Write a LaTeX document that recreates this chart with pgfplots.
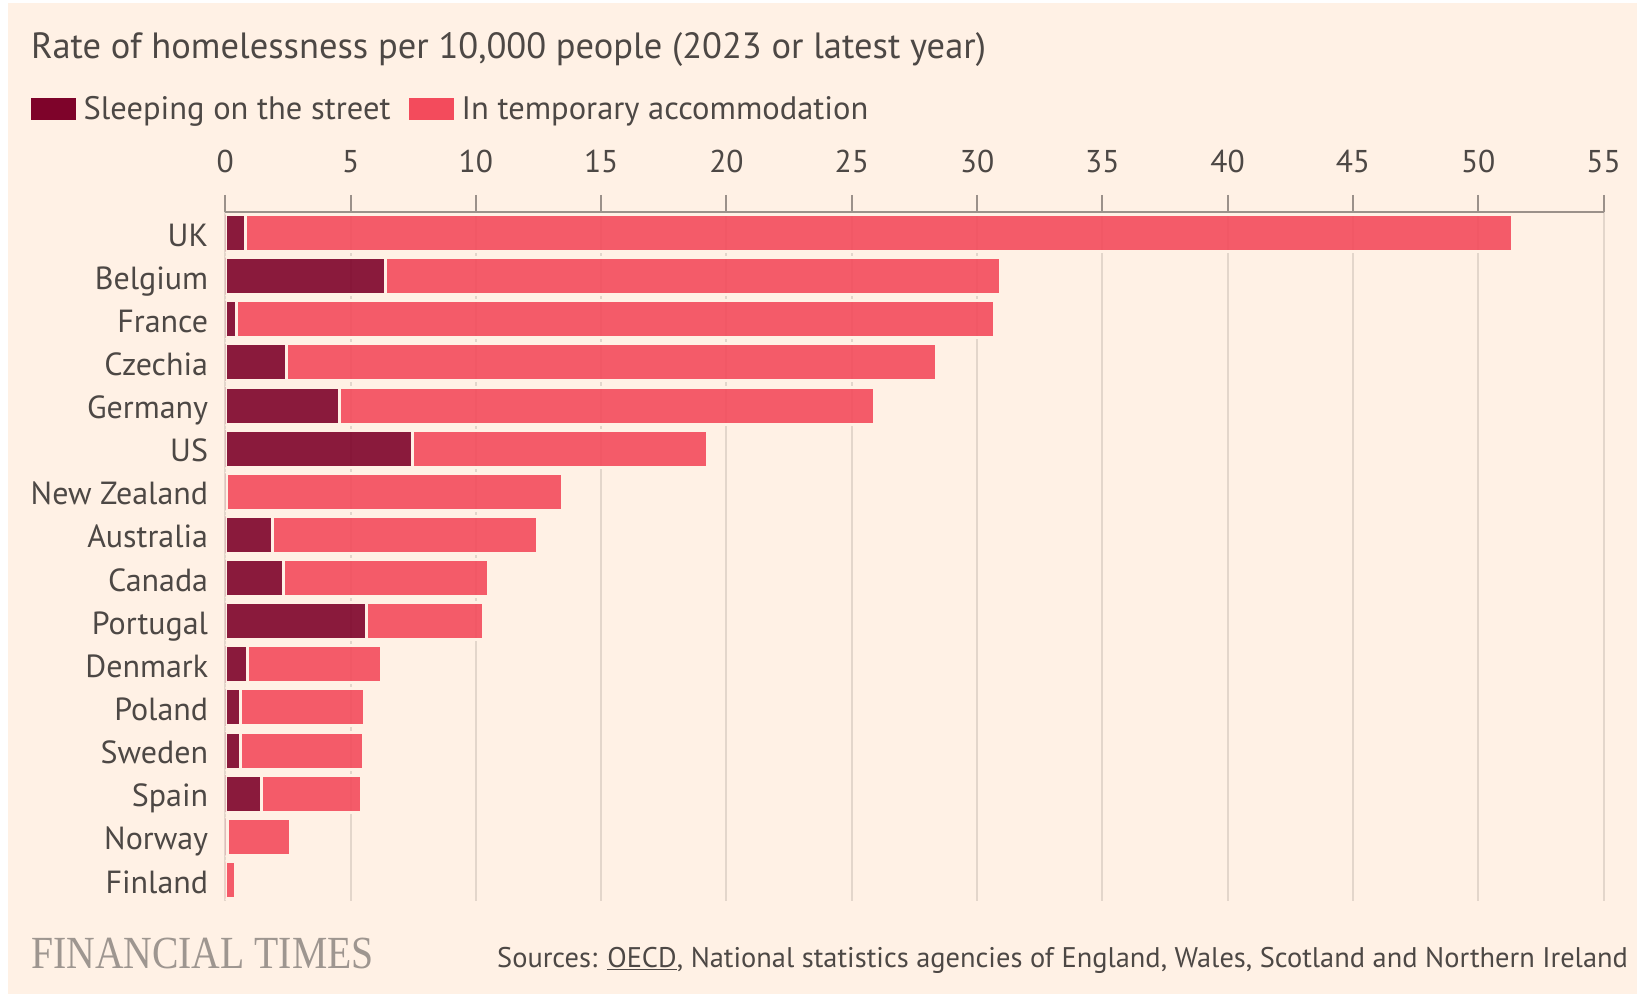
\documentclass[border=0pt]{standalone}
\usepackage{fontspec}
\setmainfont{PT Sans}
\newfontfamily\ftserif{Liberation Serif}
\usepackage{pgfplots}
\usepackage{pgfplotstable}
\pgfplotsset{compat=1.18}
\definecolor{bg}{HTML}{FFF1E5}
\definecolor{darkbar}{HTML}{7E032A}
\definecolor{lightbar}{HTML}{F34B5C}
\definecolor{txt}{HTML}{4D4845}
\definecolor{gridc}{HTML}{E3D6CB}
\definecolor{axisc}{HTML}{9B918A}
\definecolor{ftgray}{HTML}{9E9690}

% y = 15 - rank (UK on top)
\pgfplotstableread{
y  street temp
15 0.81 50.54
14 6.40 24.55
13 0.45 30.26
12 2.45 25.94
11 4.55 21.35
10 7.48 11.77
9  0.06 13.40
8  1.88 10.56
7  2.34 8.15
6  5.64 4.67
5  0.89 5.35
4  0.60 4.97
3  0.59 4.94
2  1.45 3.98
1  0.08 2.54
0  0.00 0.40
}\data

\begin{document}
\begin{tikzpicture}[x=1pt,y=1pt]
\useasboundingbox (0,0) rectangle (1637,994);
\fill[white] (0,0) rectangle (1637,994);
\fill[bg] (8,0) rectangle (1637,991);

\node[anchor=base west, inner sep=0pt, text=txt, font=\fontsize{36.5}{42}\selectfont] at (31,935) {Rate of homelessness per 10,000 people (2023 or latest year)};

\fill[darkbar] (31,874) rectangle (76,896);
\node[anchor=base west, inner sep=0pt, text=txt, font=\fontsize{32.5}{38}\selectfont] at (83.5,874) {Sleeping on the street};
\fill[lightbar] (409,874) rectangle (454,896);
\node[anchor=base west, inner sep=0pt, text=txt, font=\fontsize{32.5}{38}\selectfont] at (461.5,874) {In temporary accommodation};

\node[anchor=base west, inner sep=0pt, text=ftgray, font=\ftserif\fontsize{46}{50}\selectfont] at (31,26) {\scalebox{0.862}[1]{FINANCIAL TIMES}};
\node[anchor=base west, inner sep=0pt, text=txt, font=\fontsize{28.4}{34}\selectfont] at (497,27) {Sources: \underline{OECD}, National statistics agencies of England, Wales, Scotland and Northern Ireland};

\begin{axis}[
  at={(225.3pt,93.3pt)}, anchor=south west,
  scale only axis, width=1378.2pt, height=688.8pt,
  xbar stacked, bar width=37pt,
  xmin=0, xmax=55, ymin=-0.48, ymax=15.49,
  axis x line*=top, axis y line*=left,
  y axis line style={draw=none},
  x axis line style={draw=axisc, line width=2.5pt},
  xtick={0,5,...,55}, ytick={0,...,15},
  yticklabels={Finland,Norway,Spain,Sweden,Poland,Denmark,Portugal,Canada,Australia,New Zealand,US,Germany,Czechia,France,Belgium,UK},
  xmajorgrids, grid style={draw=gridc, line width=2pt},
  tick align=outside, major tick length=17pt,
  xtick style={draw=axisc, line width=2pt},
  ytick style={draw=none},
  /pgf/number format/assume math mode=true,
  xticklabel style={font=\fontsize{31.5}{36}\selectfont, text=txt, anchor=base, inner sep=0pt, yshift=22pt},
  yticklabel style={font=\fontsize{32}{38}\selectfont, text=txt, anchor=base east, inner sep=0pt, xshift=0pt, yshift=-13pt},
  every axis plot/.append style={draw=bg, line width=3pt, fill opacity=0.9},
]
\addplot[fill=darkbar] table[x=street, y=y] {\data};
\addplot[fill=lightbar] table[x=temp, y=y] {\data};
\end{axis}
\end{tikzpicture}
\end{document}
